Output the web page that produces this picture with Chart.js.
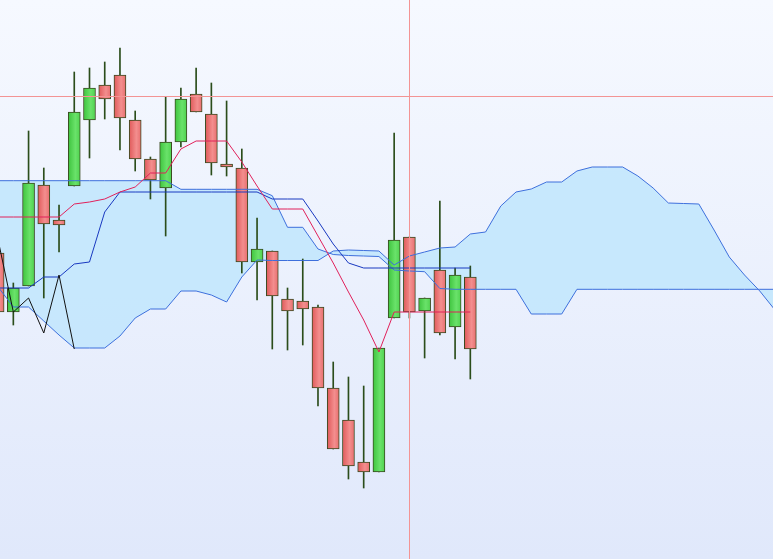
<!DOCTYPE html>
<html>
<head>
<meta charset="utf-8">
<script src="https://cdn.jsdelivr.net/npm/chart.js@4.4.1/dist/chart.umd.min.js"></script>
<style>
  html, body { margin: 0; padding: 0; }
  body { width: 773px; height: 559px; overflow: hidden; background: linear-gradient(#f6f9ff, #e0e8fb); }
  canvas { display: block; }
</style>
</head>
<body>
<canvas id="ichimoku" width="773" height="559"></canvas>
<script>
// candle values, one per period (index 0..31)
var opens  = [306, 247, 273, 374, 339, 373, 439, 474, 484, 439, 400, 371, 417, 465, 445, 395,
              391, 297, 308, 260, 258, 252, 171, 139, 97, 87, 241, 322, 248, 289, 232, 282];
var highs  = [306, 276, 428, 391, 354, 487, 491, 497, 511, 448, 402, 462, 471, 491, 476, 458,
              410, 341, 308, 271, 300, 254, 197, 182, 173, 211, 426, 322, 261, 358, 291, 293];
var lows   = [247, 234, 273, 261, 307, 373, 401, 440, 409, 388, 360, 323, 412, 447, 384, 383,
              286, 259, 210, 209, 214, 153, 110, 80, 71, 87, 241, 241, 201, 224, 200, 180];
var closes = [247, 271, 376, 335, 334, 447, 471, 460, 441, 400, 379, 417, 460, 447, 396, 392,
              297, 310, 263, 248, 250, 171, 110, 93, 87, 211, 319, 247, 261, 226, 284, 210];

var tenkan = [342, 342, 342, 342, 342, 355, 357, 360, 367, 372, 386, 386, 410, 418, 418, 418,
              397, 373, 350, 350, 350, 323, 296, 267, 239, 207, 247, 247, 247, 247, 247, 247];
var kijun  = [271, 271, 271, 282, 282, 295, 297, 347, 367, 367, 367, 367, 367, 367, 367, 367,
              367, 367, 360, 360, 360, 338, 315, 296, 291, 291, 291, 291, 291, 291, 291, 291];
var chikou = [319, 247, 261, 226, 284, 210];

// cloud spans, shifted forward (index 0..51)
var spanA = [272, 252, 252, 238, 224, 211, 211, 211, 223, 241, 250, 250, 268, 268, 264, 257,
             282, 299, 298.5, 298.5, 298.5, 298.5, 308, 309, 308.5, 308, 294, 303, 307, 311, 312, 325,
             327, 353, 367, 370, 377, 377, 388, 392, 392, 392, 383, 371, 356, 355.5, 355, 329,
             302, 284, 268, 249];
var spanB = [378.3, 378.3, 378.3, 378.3, 378.3, 378.3, 378.3, 378.3, 378.3, 378.3, 378.3, 378.3,
             369.7, 369.7, 369.7, 369.7, 369.7, 369.7, 363.3, 331.7, 331.7, 310, 304.5, 303.5,
             303, 302.5, 289, 288, 287.3, 270.5, 269.7, 269.7, 269.7, 269.7, 269.7, 245, 245, 245,
             269.7, 269.7, 269.7, 269.7, 269.7, 269.7, 269.7, 269.7, 269.7, 269.7, 269.7, 269.7,
             269.7, 269.7];

var crossIndex = 27;
var crossValue = 463;

function points(arr) {
  return arr.map(function(v, i) { return { x: i, y: v }; });
}

function bodyColor(ctx) {
  var i = ctx.dataIndex;
  var up = closes[i] > opens[i];
  var flat = up ? '#55d655' : '#ee7676';
  var sx = ctx.chart.scales.x;
  if (!sx || ctx.type !== 'data') return flat;
  var px = sx.getPixelForValue(i);
  if (!isFinite(px)) return flat;
  var g = ctx.chart.ctx.createLinearGradient(px - 6, 0, px + 6, 0);
  if (up) {
    g.addColorStop(0, '#3ec43e');
    g.addColorStop(0.6, '#6ae26a');
    g.addColorStop(1, '#4ed24e');
  } else {
    g.addColorStop(0, '#e05a5a');
    g.addColorStop(0.6, '#f38e8e');
    g.addColorStop(1, '#e86e6e');
  }
  return g;
}

var crosshair = {
  id: 'crosshair',
  afterDraw: function(chart) {
    var c = chart.ctx, a = chart.chartArea;
    var x = Math.floor(chart.scales.x.getPixelForValue(crossIndex));
    var y = Math.round(chart.scales.y.getPixelForValue(crossValue));
    c.save();
    c.fillStyle = '#f39494';
    c.fillRect(x, a.top, 1, a.bottom - a.top);
    c.fillRect(a.left, y, a.right - a.left, 1);
    c.restore();
  }
};

var lineBase = { type: 'line', pointRadius: 0, borderWidth: 1, tension: 0, fill: false };

new Chart(document.getElementById('ichimoku').getContext('2d'), {
  type: 'line',
  data: {
    datasets: [
      Object.assign({}, lineBase, { label: 'Senkou A', data: points(spanA), borderColor: '#3d6fdc', order: 4 }),
      Object.assign({}, lineBase, { label: 'Senkou B', data: points(spanB), borderColor: '#3d6fdc',
        backgroundColor: 'rgba(194,230,253,0.88)', fill: '-1', order: 5 }),
      {
        type: 'bar', label: 'wick', grouped: false, order: 7,
        data: highs.map(function(h, i) { return { x: i, y: [lows[i], h] }; }),
        backgroundColor: '#2b4d1b', barThickness: 1, maxBarThickness: 1, borderWidth: 0
      },
      {
        type: 'bar', label: 'body', grouped: false, order: 6,
        data: opens.map(function(o, i) { return { x: i, y: [o, closes[i]] }; }),
        backgroundColor: bodyColor, borderColor: '#3a4a20', borderWidth: 1, borderSkipped: false,
        barThickness: 12, maxBarThickness: 12
      },
      Object.assign({}, lineBase, { label: 'Kijun', data: points(kijun), borderColor: '#1838c0', order: 3 }),
      Object.assign({}, lineBase, { label: 'Tenkan', data: points(tenkan), borderColor: '#e0205a', order: 2 }),
      Object.assign({}, lineBase, { label: 'Chikou', data: points(chikou), borderColor: '#111111', order: 1 })
    ]
  },
  options: {
    responsive: false,
    devicePixelRatio: 1,
    animation: false,
    events: [],
    layout: { padding: 0, autoPadding: false },
    scales: {
      x: { type: 'linear', display: false, offset: false, min: 0.125, max: 50.87 },
      y: { type: 'linear', display: false, min: 0, max: 559 }
    },
    plugins: {
      legend: { display: false },
      tooltip: { enabled: false },
      filler: { drawTime: 'beforeDatasetsDraw' }
    }
  },
  plugins: [crosshair]
});
</script>
</body>
</html>
